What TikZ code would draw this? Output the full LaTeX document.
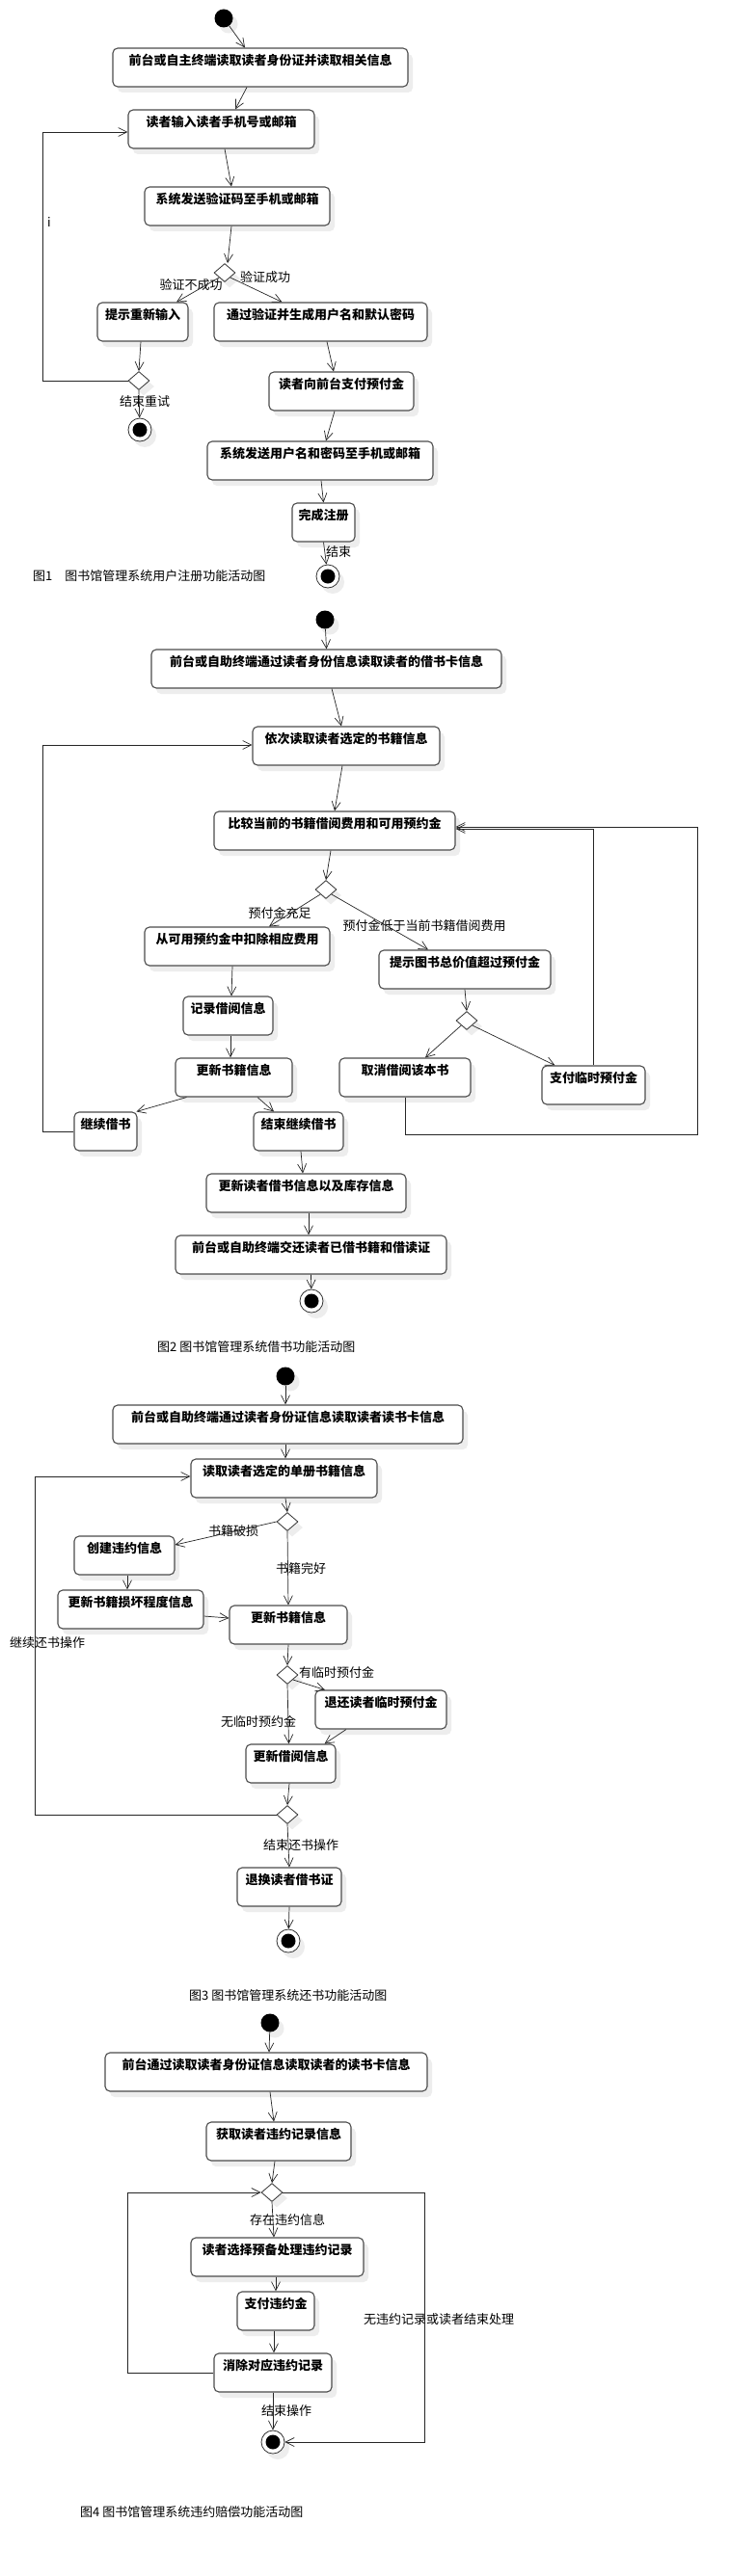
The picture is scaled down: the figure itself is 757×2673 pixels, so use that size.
\documentclass[tikz,border=0pt]{standalone}
\usepackage{fontspec}
\newfontfamily\cjk{Noto Sans CJK SC}
\usetikzlibrary{shapes.geometric,arrows.meta,shadows}

\begin{document}
\begin{tikzpicture}[x=1pt,y=-1pt,
  font=\cjk\fontsize{13}{15}\selectfont,
  dropshade/.style={drop shadow={shadow xshift=5pt,shadow yshift=-6pt,fill=black!7,opacity=1}},
  actnode/.style={draw=black!70,line width=1.1pt,rounded corners=5pt,fill=white,dropshade,
    inner xsep=0pt,inner ysep=0pt,text height=17.5pt,text depth=22.5pt,minimum width=#1pt,
    font=\cjk\bfseries\fontsize{13}{15}\selectfont},
  startnode/.style={circle,fill=black,minimum size=19pt,inner sep=0pt,dropshade},
  endnode/.style={circle,draw=black!80,line width=0.8pt,fill=white,minimum size=24pt,inner sep=0pt,dropshade,
    path picture={\fill[black] (path picture bounding box.center) circle (7.5pt);}},
  decnode/.style={diamond,draw=black!80,line width=0.8pt,fill=white,minimum width=22pt,minimum height=19pt,
    inner sep=0pt,dropshade},
  flow/.style={draw=black!85,line width=0.7pt,-{Straight Barb[length=9pt,width=9pt]}},
  lbl/.style={inner sep=0pt},
  figcap/.style={anchor=west,inner sep=0pt}]

  \fill[white] (0,0) rectangle (757,2673);
  \useasboundingbox (0,0) rectangle (757,2673);

  \node[startnode] (s1) at (232,19) {};
  \node[actnode=306] (a1) at (270,70) {前台或自主终端读取读者身份证并读取相关信息};
  \node[actnode=193] (a2) at (229.5,134) {读者输入读者手机号或邮箱};
  \node[actnode=192] (a3) at (246,214) {系统发送验证码至手机或邮箱};
  \node[decnode] (d1) at (233,283) {};
  \node[actnode=94] (a4) at (148,334) {提示重新输入};
  \node[actnode=221] (a5) at (332.5,334) {通过验证并生成用户名和默认密码};
  \node[decnode] (d2) at (144,395) {};
  \node[endnode] (f1) at (145,446) {};
  \node[actnode=150] (a6) at (354,406) {读者向前台支付预付金};
  \node[actnode=234] (a7) at (332,478) {系统发送用户名和密码至手机或邮箱};
  \node[actnode=65] (a8) at (335.5,542) {完成注册};
  \node[endnode] (f2) at (340,598) {};
  \node[figcap] (cap1) at (34,598) {图1\quad 图书馆管理系统用户注册功能活动图};

  \node[lbl] (l1) at (51,230) {i};
  \node[lbl] (l2) at (198,296) {验证不成功};
  \node[lbl] (l3) at (275,288) {验证成功};
  \node[lbl] (l4) at (150,417) {结束重试};
  \node[lbl] (l5) at (351,573) {结束};

  \draw[flow] (s1) -- ([xshift=-16pt]a1.north);
  \draw[flow] ([xshift=-14pt]a1.south) -- ([xshift=14.5pt]a2.north);
  \draw[flow] ([xshift=3.5pt]a2.south) -- ([xshift=-6pt]a3.north);
  \draw[flow] ([xshift=-6pt]a3.south) -- ([xshift=3pt]d1.north);
  \draw[flow] (d1.south west) -- ([xshift=35pt]a4.north);
  \draw[flow] (d1.south east) -- ([xshift=-40pt]a5.north);
  \draw[flow] ([xshift=-2pt]a4.south) -- (d2.north);
  \draw[flow] (d2.south) -- (f1);
  \draw[flow] (d2.west) -- ++(-88.5,0) |- ([yshift=-3pt]a2.west);
  \draw[flow] ([xshift=6.5pt]a5.south) -- ([xshift=-8pt]a6.north);
  \draw[flow] ([xshift=-7pt]a6.south) -- ([xshift=6pt]a7.north);
  \draw[flow] ([xshift=1pt]a7.south) -- (a8.north);
  \draw[flow] (a8.south) -- (f2);

  \node[startnode] (s2) at (337,643) {};
  \node[actnode=363] (b1) at (338.5,694) {前台或自助终端通过读者身份信息读取读者的借书卡信息};
  \node[actnode=194] (b2) at (359,774) {依次读取读者选定的书籍信息};
  \node[actnode=250] (b3) at (347,862) {比较当前的书籍借阅费用和可用预约金};
  \node[decnode] (d3) at (338,923) {};
  \node[actnode=192] (b4) at (246,982) {从可用预约金中扣除相应费用};
  \node[actnode=178] (b5) at (482,1006) {提示图书总价值超过预付金};
  \node[actnode=93] (b6) at (236.5,1054) {记录借阅信息};
  \node[actnode=121] (b7) at (242.5,1118) {更新书籍信息};
  \node[decnode] (d4) at (484,1059) {};
  \node[actnode=136] (b8) at (420,1118) {取消借阅该本书};
  \node[actnode=107] (b9) at (615.5,1126) {支付临时预付金};
  \node[actnode=65] (b10) at (109.5,1174) {继续借书};
  \node[actnode=93] (b11) at (309.5,1174) {结束继续借书};
  \node[actnode=207] (b12) at (317.5,1238) {更新读者借书信息以及库存信息};
  \node[actnode=281] (b13) at (322.5,1302) {前台或自助终端交还读者已借书籍和借读证};
  \node[endnode] (f3) at (323,1350) {};
  \node[figcap] (cap2) at (163,1398) {图2 图书馆管理系统借书功能活动图};

  \node[lbl] (l6) at (290,948) {预付金充足};
  \node[lbl] (l7) at (440,961) {预付金低于当前书籍借阅费用};

  \draw[flow] (s2) -- (b1.north);
  \draw[flow] ([xshift=5.5pt]b1.south) -- ([xshift=-5pt]b2.north);
  \draw[flow] ([xshift=-4pt]b2.south) -- (b3.north);
  \draw[flow] ([xshift=-4pt]b3.south) -- (d3.north);
  \draw[flow] (d3.south west) -- ([xshift=33pt]b4.north);
  \draw[flow] (d3.south east) -- ([xshift=-38pt]b5.north);
  \draw[flow] ([xshift=-5pt]b4.south) -- ([xshift=3.5pt]b6.north);
  \draw[flow] ([xshift=2.5pt]b6.south) -- ([xshift=-3.5pt]b7.north);
  \draw[flow] ([xshift=-49pt]b7.south) -- ([xshift=32pt]b10.north);
  \draw[flow] ([xshift=24.5pt]b7.south) -- ([xshift=-25.5pt]b11.north);
  \draw[flow] (b10.west) -- ++(-32,0) |- ([yshift=1pt]b2.west);
  \draw[flow] (b5.south) -- (d4.north);
  \draw[flow] (d4.south west) -- ([xshift=21pt]b8.north);
  \draw[flow] (d4.south east) -- ([xshift=-40pt]b9.north);
  \draw[flow] (b9.north) |- ([yshift=2pt]b3.east);
  \draw[flow] (b8.south) -- ++(0,39) -- ++(303,0) |- ([yshift=4pt]b3.east);
  \draw[flow] ([xshift=2.5pt]b11.south) -- ([xshift=-3.5pt]b12.north);
  \draw[flow] ([xshift=2.5pt]b12.south) -- ([xshift=-2.5pt]b13.north);
  \draw[flow] (b13.south) -- (f3);

  \node[startnode] (s3) at (296,1428) {};
  \node[actnode=363] (c1) at (298.5,1478) {前台或自助终端通过读者身份证信息读取读者读书卡信息};
  \node[actnode=193] (c2) at (294.5,1534) {读取读者选定的单册书籍信息};
  \node[decnode] (d5) at (298,1579) {};
  \node[actnode=104] (c3) at (129,1614) {创建违约信息};
  \node[actnode=151] (c4) at (135.5,1670) {更新书籍损坏程度信息};
  \node[actnode=122] (c5) at (299,1686) {更新书籍信息};
  \node[decnode] (d6) at (298,1738) {};
  \node[actnode=136] (c6) at (395,1774) {退还读者临时预付金};
  \node[actnode=93] (c7) at (301.5,1830) {更新借阅信息};
  \node[decnode] (d7) at (298,1883) {};
  \node[actnode=108] (c8) at (300,1958) {退换读者借书证};
  \node[endnode] (f4) at (299,2014) {};
  \node[figcap] (cap3) at (196,2071) {图3 图书馆管理系统还书功能活动图};

  \node[lbl] (l8) at (242,1589) {书籍破损};
  \node[lbl] (l9) at (312,1627) {书籍完好};
  \node[lbl] (l10) at (349,1735) {有临时预付金};
  \node[lbl] (l11) at (268,1786) {无临时预约金};
  \node[lbl] (l12) at (312,1915) {结束还书操作};
  \node[lbl] (l13) at (49,1705) {继续还书操作};

  \draw[flow] (s3) -- ([xshift=-2.5pt]c1.north);
  \draw[flow] ([xshift=-2.5pt]c1.south) -- ([xshift=1.5pt]c2.north);
  \draw[flow] ([xshift=1.5pt]c2.south) -- (d5.north);
  \draw[flow] (d5.west) -- ([yshift=11pt]c3.east);
  \draw[flow] (d5.south) -- (c5.north);
  \draw[flow] ([xshift=3pt]c3.south) -- ([xshift=-3.5pt]c4.north);
  \draw[flow] ([yshift=-7pt]c4.east) -- ([yshift=7pt]c5.west);
  \draw[flow] (c5.south) -- (d6.north);
  \draw[flow] (d6.south east) -- ([xshift=-58pt]c6.north);
  \draw[flow] (d6.south) -- ([xshift=-2pt]c7.north);
  \draw[flow] ([xshift=-36pt]c6.south) -- ([xshift=35pt]c7.north);
  \draw[flow] ([xshift=-1.5pt]c7.south) -- (d7.north);
  \draw[flow] (d7.south) -- (c8.north);
  \draw[flow] (d7.west) -- ++(-250,0) |- ([yshift=2pt]c2.west);
  \draw[flow] (c8.south) -- (f4);

  \node[startnode] (s4) at (280,2099) {};
  \node[actnode=334] (e1) at (276,2150) {前台通过读取读者身份证信息读取读者的读书卡信息};
  \node[actnode=150] (e2) at (289,2222) {获取读者违约记录信息};
  \node[decnode] (d8) at (282,2275) {};
  \node[actnode=179] (e3) at (287.5,2342) {读者选择预备处理违约记录};
  \node[actnode=80] (e4) at (286,2398) {支付违约金};
  \node[actnode=122] (e5) at (283,2462) {消除对应违约记录};
  \node[endnode] (f5) at (283,2534) {};
  \node[figcap] (cap4) at (83,2607) {图4 图书馆管理系统违约赔偿功能活动图};

  \node[lbl] (l14) at (298,2303) {存在违约信息};
  \node[lbl] (l15) at (297,2502) {结束操作};
  \node[lbl] (l16) at (455,2407) {无违约记录或读者结束处理};

  \draw[flow] (s4) -- ([xshift=3pt]e1.north);
  \draw[flow] ([xshift=4pt]e1.south) -- ([xshift=-5pt]e2.north);
  \draw[flow] ([xshift=-4pt]e2.south) -- (d8.north);
  \draw[flow] (d8.south) -- ([xshift=-3.5pt]e3.north);
  \draw[flow] ([xshift=-1.5pt]e3.south) -- (e4.north);
  \draw[flow] ([xshift=-2pt]e4.south) -- ([xshift=1pt]e5.north);
  \draw[flow] (e5.south) -- (f5);
  \draw[flow] (e5.west) -- ++(-89,0) |- (d8.west);
  \draw[flow] (d8.east) -- ++(147,0) |- (f5);
\end{tikzpicture}
\end{document}
